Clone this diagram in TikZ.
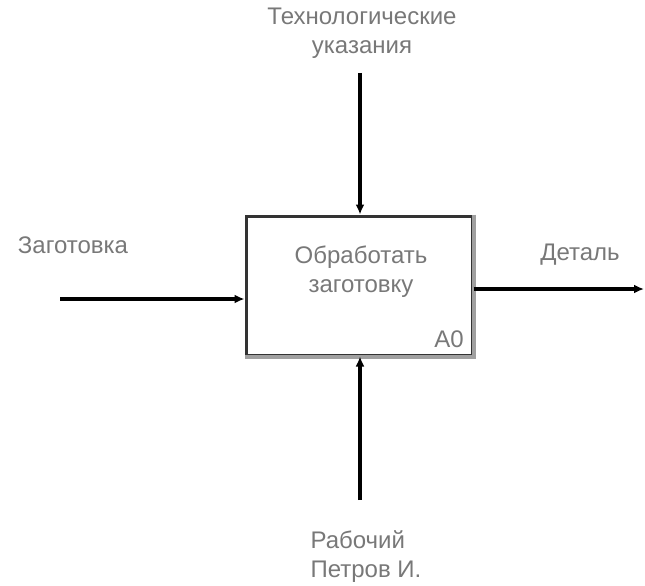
\documentclass[tikz,border=0pt]{standalone}
\usepackage{fontspec}
\setmainfont{Liberation Sans}
\usetikzlibrary{arrows.meta, calc}
\definecolor{labelgray}{RGB}{120,120,120}
\definecolor{shadowgray}{RGB}{160,160,160}

\begin{document}
\begin{tikzpicture}[x=1pt, y=-1pt, font=\fontsize{24}{29}\selectfont]
\useasboundingbox (0,0) rectangle (645,586);
\node[rectangle, draw=black!80, line width=3pt, minimum width=226pt, minimum height=139pt, inner sep=0pt] (func) at (359,285.5) {};
\draw[shadowgray, line width=4pt] (func.north east) -- (func.south east) -- (func.south west);
\node[text=labelgray, align=center] (name) at (361,272) {Обработать\\заготовку};
\node[text=labelgray] (num) at (449,339) {A0};

\node[text=labelgray, align=center] (ctrllabel) at (362,33) {Технологические\\указания};
\node[text=labelgray] (inlabel) at (73,245) {Заготовка};
\node[text=labelgray] (outlabel) at (580,255) {Деталь};
\node[text=labelgray, align=left] (mechlabel) at (366,557) {Рабочий\\Петров И.};

\coordinate (ctrl) at (360,73);
\coordinate (mech) at (360,500);
\coordinate (inp) at (60,299);
\coordinate (outp) at (644,289);

\draw[-{Latex[length=10pt,width=9pt]}, line width=3.5pt] (ctrl) -- (ctrl |- func.north);
\draw[-{Latex[length=10pt,width=9pt]}, line width=3.5pt] (mech) -- (mech |- func.south);
\draw[-{Latex[length=10pt,width=9pt]}, line width=3.5pt] (inp) -- (inp -| func.west);
\draw[-{Latex[length=10pt,width=9pt]}, line width=3.5pt] (outp -| func.east) -- (outp);
\end{tikzpicture}
\end{document}
